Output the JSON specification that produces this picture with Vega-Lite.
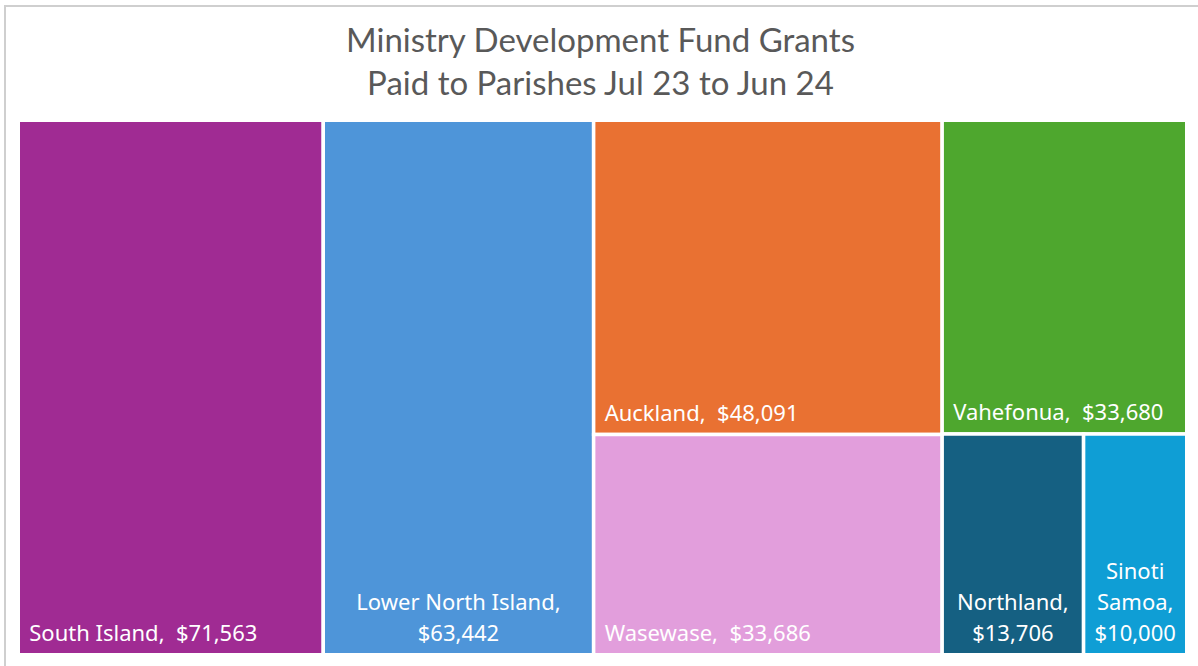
{
  "$schema": "https://vega.github.io/schema/vega-lite/v6.json",
  "width": 1193,
  "height": 660,
  "autosize": {"type": "none"},
  "padding": {"left": 5, "top": 6, "right": 0, "bottom": 0},
  "background": "white",
  "config": {"view": {"stroke": "#cfcfcf", "strokeWidth": 2, "strokeDash": [1193, 1853, 660]}},
  "title": {
    "text": ["Ministry Development Fund Grants", "Paid to Parishes Jul 23 to Jun 24"],
    "font": "Lato",
    "fontSize": 33,
    "fontWeight": "normal",
    "color": "#595959",
    "lineHeight": 43,
    "anchor": "middle",
    "frame": "group",
    "orient": "top",
    "offset": -96,
    "dx": -1
  },
  "data": {
    "values": [
      {"region": "South Island", "value": 71563, "col": 1, "row": 1, "cell": 1, "label": "South Island,\u00a0 $71,563"},
      {"region": "Lower North Island", "value": 63442, "col": 2, "row": 1, "cell": 1, "label": "Lower North Island,\n$63,442"},
      {"region": "Auckland", "value": 48091, "col": 3, "row": 1, "cell": 1, "label": "Auckland,\u00a0 $48,091"},
      {"region": "Wasewase", "value": 33686, "col": 3, "row": 2, "cell": 1, "label": "Wasewase,\u00a0 $33,686"},
      {"region": "Vahefonua", "value": 33680, "col": 4, "row": 1, "cell": 1, "label": "Vahefonua,\u00a0 $33,680"},
      {"region": "Northland", "value": 13706, "col": 4, "row": 2, "cell": 1, "label": "Northland,\n$13,706"},
      {"region": "Sinoti Samoa", "value": 10000, "col": 4, "row": 2, "cell": 2, "label": "Sinoti\nSamoa,\n$10,000"}
    ]
  },
  "transform": [
    {"joinaggregate": [{"op": "sum", "field": "value", "as": "colSum"}], "groupby": ["col"]},
    {"joinaggregate": [{"op": "sum", "field": "value", "as": "rowSum"}], "groupby": ["col", "row"]},
    {"window": [{"op": "sum", "field": "value", "as": "colEnd"}], "sort": [{"field": "col"}], "frame": [null, 0], "ignorePeers": false},
    {"window": [{"op": "sum", "field": "value", "as": "rowEnd"}], "groupby": ["col"], "sort": [{"field": "row"}], "frame": [null, 0], "ignorePeers": false},
    {"window": [{"op": "sum", "field": "value", "as": "cellEnd"}], "groupby": ["col", "row"], "sort": [{"field": "cell"}], "frame": [null, 0], "ignorePeers": false},
    {"calculate": "datum.colEnd - datum.colSum + (datum.cellEnd - datum.value) / datum.rowSum * datum.colSum", "as": "x0"},
    {"calculate": "datum.colEnd - datum.colSum + datum.cellEnd / datum.rowSum * datum.colSum", "as": "x1"},
    {"calculate": "(datum.rowEnd - datum.rowSum) / datum.colSum", "as": "y0"},
    {"calculate": "datum.rowEnd / datum.colSum", "as": "y1"},
    {"calculate": "(datum.x0 + datum.x1) / 2", "as": "xc"},
    {"calculate": "length(split(datum.label, '\\n'))", "as": "nlines"}
  ],
  "layer": [
    {
      "mark": {"type": "rect", "stroke": "white", "strokeWidth": 3.5},
      "encoding": {
        "x": {"field": "x0", "type": "quantitative", "axis": null, "scale": {"nice": false, "zero": true, "range": [13.25, 1181.75]}},
        "x2": {"field": "x1"},
        "y": {"field": "y0", "type": "quantitative", "axis": null, "scale": {"domain": [0, 1], "nice": false, "range": [114.25, 648.75]}},
        "y2": {"field": "y1"},
        "color": {
          "field": "region",
          "type": "nominal",
          "legend": null,
          "scale": {
            "domain": ["South Island", "Lower North Island", "Auckland", "Wasewase", "Vahefonua", "Northland", "Sinoti Samoa"],
            "range": ["#A02B93", "#4E95D9", "#E97132", "#E29EDC", "#4EA72E", "#156082", "#0F9ED5"]
          }
        }
      }
    },
    {
      "transform": [{"filter": "datum.nlines == 1"}],
      "mark": {"type": "text", "align": "left", "baseline": "bottom", "dx": 11, "dy": -9, "font": "Noto Sans", "fontSize": 22, "color": "white"},
      "encoding": {
        "x": {"field": "x0", "type": "quantitative"},
        "y": {"field": "y1", "type": "quantitative"},
        "text": {"field": "label"}
      }
    },
    {
      "transform": [{"filter": "datum.nlines == 2"}],
      "mark": {"type": "text", "align": "center", "baseline": "bottom", "dy": -40, "font": "Noto Sans", "fontSize": 22, "lineHeight": 31, "lineBreak": "\n", "color": "white"},
      "encoding": {
        "x": {"field": "xc", "type": "quantitative"},
        "y": {"field": "y1", "type": "quantitative"},
        "text": {"field": "label"}
      }
    },
    {
      "transform": [{"filter": "datum.nlines == 3"}],
      "mark": {"type": "text", "align": "center", "baseline": "bottom", "dy": -71, "font": "Noto Sans", "fontSize": 22, "lineHeight": 31, "lineBreak": "\n", "color": "white"},
      "encoding": {
        "x": {"field": "xc", "type": "quantitative"},
        "y": {"field": "y1", "type": "quantitative"},
        "text": {"field": "label"}
      }
    }
  ]
}
